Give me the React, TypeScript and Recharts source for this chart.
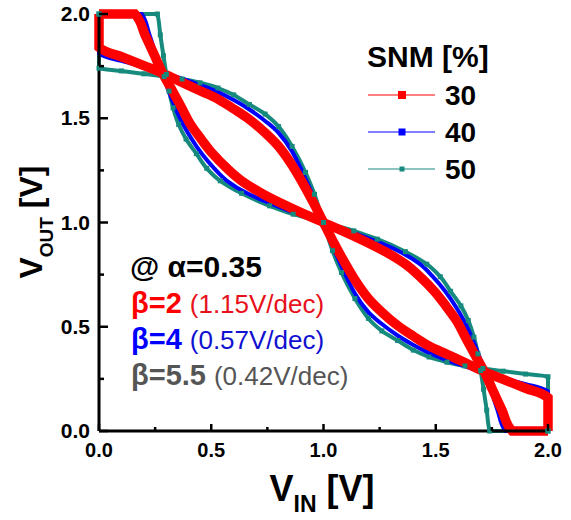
import { LineChart, Line, XAxis, YAxis } from "recharts";

// transfer curves V_OUT(V_IN); the mirrored curve is the same data with axes swapped
const vIn30 = [0, 0, 0.1, 0.2, 0.27, 0.37, 0.45, 0.53, 0.6, 0.67, 0.74, 0.8, 0.86, 0.92, 0.96, 1.0, 1.04, 1.08, 1.14, 1.2, 1.26, 1.33, 1.4, 1.47, 1.55, 1.63, 1.73, 1.8, 1.9, 2.0, 2.0];
const vOut30 = [2.0, 1.84, 1.795, 1.752, 1.723, 1.672, 1.632, 1.592, 1.545, 1.494, 1.43, 1.365, 1.275, 1.165, 1.085, 1.0, 0.915, 0.835, 0.725, 0.635, 0.57, 0.506, 0.455, 0.408, 0.368, 0.328, 0.277, 0.248, 0.205, 0.16, 0.0];

const vIn40 = [0, 0, 0.1, 0.2, 0.28, 0.37, 0.45, 0.53, 0.6, 0.67, 0.74, 0.8, 0.86, 0.92, 0.96, 1.0, 1.04, 1.08, 1.14, 1.2, 1.26, 1.33, 1.4, 1.47, 1.55, 1.63, 1.72, 1.8, 1.9, 2.0, 2.0];
const vOut40 = [2.0, 1.81, 1.775, 1.745, 1.72, 1.69, 1.66, 1.625, 1.587, 1.542, 1.487, 1.43, 1.34, 1.21, 1.11, 1.0, 0.89, 0.79, 0.66, 0.57, 0.513, 0.458, 0.413, 0.375, 0.34, 0.31, 0.28, 0.255, 0.225, 0.19, 0.0];

const vIn50 = [0, 0, 0.1, 0.2, 0.29, 0.37, 0.45, 0.53, 0.6, 0.67, 0.74, 0.8, 0.86, 0.92, 0.96, 1.0, 1.04, 1.08, 1.14, 1.2, 1.26, 1.33, 1.4, 1.47, 1.55, 1.63, 1.71, 1.8, 1.9, 2.0, 2.0];
const vOut50 = [2.0, 1.74, 1.727, 1.713, 1.7, 1.688, 1.67, 1.645, 1.612, 1.566, 1.52, 1.46, 1.365, 1.24, 1.135, 1.0, 0.865, 0.76, 0.635, 0.54, 0.48, 0.434, 0.388, 0.355, 0.33, 0.312, 0.3, 0.287, 0.273, 0.26, 0.0];

const snmLabels = ["30", "40", "50"];
const snmColors = ["#ff0000", "#0000ff", "#178a7e"];
const snmWidths = [9.5, 4, 4];
const snmMarkers = [8, 7, 5];

const axisTicks = [0, 0.25, 0.5, 0.75, 1, 1.25, 1.5, 1.75, 2];

const notes = [
  { head: "β=2", tail: "(1.15V/dec)", color: "#ff0000", tailColor: "#e8101a" },
  { head: "β=4", tail: "(0.57V/dec)", color: "#0000ff", tailColor: "#1010d0" },
  { head: "β=5.5", tail: "(0.42V/dec)", color: "#555555", tailColor: "#555555" },
];

const FONT = "'Liberation Sans', Arial, sans-serif";

const toPoints = (xs: number[], ys: number[]) => xs.map((x, i) => ({ x, y: ys[i] }));
const mirror = (pts: { x: number; y: number }[]) => pts.map((p) => ({ x: p.y, y: p.x }));

const curves = [toPoints(vIn30, vOut30), toPoints(vIn40, vOut40), toPoints(vIn50, vOut50)];

const isMajor = (v: number) => Math.abs(v * 2 - Math.round(v * 2)) < 1e-6;

function BottomTick(props: any) {
  const { x, y, payload } = props;
  const v = payload.value as number;
  const major = isMajor(v);
  return (
    <g>
      <line x1={x} x2={x} y1={y} y2={y - (major ? 7 : 4)} stroke="#000" strokeWidth={2.5} />
      {major && (
        <text x={x} y={y + 26} textAnchor="middle" fontFamily={FONT} fontWeight="bold" fontSize={20} fill="#000">
          {v.toFixed(1)}
        </text>
      )}
    </g>
  );
}

function LeftTick(props: any) {
  const { x, y, payload } = props;
  const v = payload.value as number;
  const major = isMajor(v);
  return (
    <g>
      <line x1={x} x2={x + (major ? 9 : 5)} y1={y} y2={y} stroke="#000" strokeWidth={2.5} />
      {major && (
        <text x={x - 9} y={y + 7} textAnchor="end" fontFamily={FONT} fontWeight="bold" fontSize={21} fill="#000">
          {v.toFixed(1)}
        </text>
      )}
    </g>
  );
}

function SquareDot(props: any) {
  const { cx, cy, stroke } = props;
  if (cx == null || cy == null) return null;
  return <rect x={cx - 2.5} y={cy - 2.5} width={5} height={5} fill={stroke} />;
}

function Overlay() {
  return (
    <svg width={571} height={520} style={{ position: "absolute", left: 0, top: 0, pointerEvents: "none" }}>
      {/* legend */}
      <text x={367} y={67} fontFamily={FONT} fontWeight="bold" fontSize={30} fill="#000">
        SNM [%]
      </text>
      {snmLabels.map((label, i) => {
        const cy = 95 + i * 37;
        const m = snmMarkers[i];
        return (
          <g key={label}>
            <line x1={368} x2={435} y1={cy} y2={cy} stroke={snmColors[i]} strokeWidth={1.2} />
            <rect x={402 - m / 2} y={cy - m / 2} width={m} height={m} fill={snmColors[i]} />
            <text x={445} y={cy + 10} fontFamily={FONT} fontWeight="bold" fontSize={28} fill="#000">
              {label}
            </text>
          </g>
        );
      })}

      {/* annotations */}
      <text x={130} y={277} fontFamily={FONT} fontWeight="bold" fontSize={30} fill="#000">
        @ α=0.35
      </text>
      {notes.map((n, i) => (
        <text key={n.head} x={131} y={313 + i * 36} fontFamily={FONT}>
          <tspan fontWeight="bold" fontSize={29} fill={n.color}>
            {n.head}
          </tspan>
          <tspan fontSize={26} fill={n.tailColor} dx={8}>
            {n.tail}
          </tspan>
        </text>
      ))}

      {/* axis titles */}
      <text x={322} y={501} textAnchor="middle" fontFamily={FONT} fontWeight="bold" fontSize={36} fill="#000">
        V
        <tspan fontSize={23} dy={11}>
          IN
        </tspan>
        <tspan dy={-11}> [V]</tspan>
      </text>
      <text
        x={0}
        y={0}
        transform="translate(42,222) rotate(-90)"
        textAnchor="middle"
        fontFamily={FONT}
        fontWeight="bold"
        fontSize={32}
        fill="#000"
      >
        V
        <tspan fontSize={19} dy={11}>
          OUT
        </tspan>
        <tspan dy={-11}> [V]</tspan>
      </text>
    </svg>
  );
}

export default function App() {
  const order = [2, 1, 0];
  return (
    <div style={{ position: "absolute", left: 0, top: 0, width: 571, height: 520, background: "#fff" }}>
      <LineChart width={571} height={520} margin={{ top: 14, right: 23, bottom: 49, left: 39 }}>
        <XAxis
          type="number"
          dataKey="x"
          domain={[0, 2]}
          ticks={axisTicks}
          interval={0}
          height={40}
          tickSize={0}
          tickMargin={0}
          tickLine={false}
          tick={<BottomTick />}
          axisLine={{ stroke: "#000", strokeWidth: 3 }}
        />
        <YAxis
          type="number"
          domain={[0, 2]}
          ticks={axisTicks}
          interval={0}
          width={60}
          tickSize={0}
          tickMargin={0}
          tickLine={false}
          tick={<LeftTick />}
          axisLine={{ stroke: "#000", strokeWidth: 3 }}
        />
        <XAxis
          xAxisId="top"
          orientation="top"
          type="number"
          domain={[0, 2]}
          height={0}
          tick={false}
          tickLine={false}
          axisLine={{ stroke: "#000", strokeWidth: 3 }}
        />
        <YAxis
          yAxisId="right"
          orientation="right"
          type="number"
          domain={[0, 2]}
          width={0}
          tick={false}
          tickLine={false}
          axisLine={{ stroke: "#000", strokeWidth: 3 }}
        />
        {order.map((i) => (
          <Line
            key={`a-${i}`}
            data={curves[i]}
            dataKey="y"
            type="monotoneX"
            stroke={snmColors[i]}
            strokeWidth={snmWidths[i]}
            dot={i === 2 ? <SquareDot /> : false}
            legendType="none"
            isAnimationActive={false}
          />
        ))}
        {order.map((i) => (
          <Line
            key={`b-${i}`}
            data={mirror(curves[i])}
            dataKey="y"
            type="monotoneY"
            stroke={snmColors[i]}
            strokeWidth={snmWidths[i]}
            dot={i === 2 ? <SquareDot /> : false}
            legendType="none"
            isAnimationActive={false}
          />
        ))}
      </LineChart>
      <Overlay />
    </div>
  );
}
